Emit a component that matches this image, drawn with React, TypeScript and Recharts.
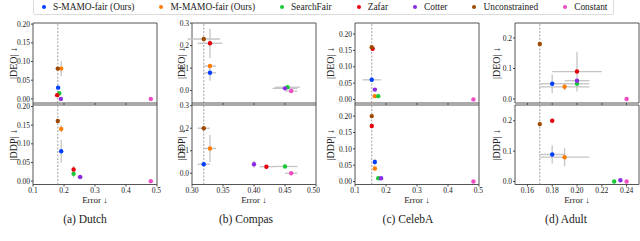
import React from "react";
import {
  ScatterChart,
  Scatter,
  XAxis,
  YAxis,
  ErrorBar,
  ReferenceLine,
  ReferenceArea,
} from "recharts";

const METHODS = [
  "S-MAMO-fair (Ours)",
  "M-MAMO-fair (Ours)",
  "SearchFair",
  "Zafar",
  "Cotter",
  "Unconstrained",
  "Constant",
];

const COLORS = ["#023eff", "#ff7c00", "#1ac938", "#e8000b", "#8b2be2", "#9f4800", "#f14cc1"];

// one row per method, same order as METHODS: [error, metric, error std, metric std]
const dutchDeo = [
  [0.181, 0.03, 0, 0],
  [0.191, 0.081, 0, 0.02],
  [0.185, 0.015, 0, 0],
  [0.178, 0.01, 0, 0],
  [0.19, 0.0, 0, 0],
  [0.18, 0.081, 0, 0],
  [0.48, 0.0, 0, 0],
];
const dutchDdp = [
  [0.191, 0.08, 0, 0.03],
  [0.191, 0.14, 0, 0.01],
  [0.231, 0.02, 0, 0.01],
  [0.231, 0.031, 0, 0.01],
  [0.252, 0.011, 0.01, 0],
  [0.18, 0.161, 0, 0],
  [0.48, 0.0, 0, 0],
];

const compasDeo = [
  [0.329, 0.079, 0.01, 0.035],
  [0.329, 0.109, 0.01, 0],
  [0.454, 0.015, 0.02, 0],
  [0.329, 0.21, 0.02, 0.065],
  [0.45, 0.01, 0.02, 0],
  [0.319, 0.229, 0.026, 0],
  [0.46, -0.002, 0.01, 0],
];
const compasDdp = [
  [0.319, 0.04, 0.01, 0],
  [0.329, 0.11, 0.01, 0.06],
  [0.45, 0.03, 0.02, 0],
  [0.42, 0.029, 0.011, 0],
  [0.4, 0.04, 0, 0.016],
  [0.319, 0.2, 0.01, 0],
  [0.46, 0.0, 0.01, 0],
];

const celebaDeo = [
  [0.154, 0.06, 0.0295, 0],
  [0.164, 0.01, 0, 0],
  [0.175, 0.01, 0, 0.005],
  [0.157, 0.155, 0, 0],
  [0.164, 0.03, 0, 0],
  [0.154, 0.16, 0, 0],
  [0.482, 0.0, 0, 0],
];
const celebaDdp = [
  [0.164, 0.06, 0, 0.01],
  [0.164, 0.04, 0, 0.005],
  [0.175, 0.01, 0, 0],
  [0.154, 0.17, 0, 0],
  [0.184, 0.01, 0, 0],
  [0.154, 0.2, 0, 0],
  [0.482, 0.0, 0, 0],
];

const adultDeo = [
  [0.18, 0.05, 0.01, 0.03],
  [0.19, 0.04, 0.02, 0.012],
  [0.2, 0.05, 0.01, 0.01],
  [0.2, 0.09, 0.02, 0.065],
  [0.2, 0.06, 0.01, 0],
  [0.17, 0.18, 0, 0],
  [0.24, 0.0, 0, 0],
];
const adultDdp = [
  [0.18, 0.089, 0.01, 0.03],
  [0.19, 0.08, 0.02, 0.03],
  [0.23, 0.0, 0, 0],
  [0.18, 0.2, 0, 0],
  [0.235, 0.004, 0, 0],
  [0.17, 0.189, 0, 0],
  [0.24, 0.0, 0, 0],
];

const FONT = '"Liberation Serif", "DejaVu Serif", serif';
const PLOT_W = 124;
const ROWS = {
  top: { top: 23, height: 80 },
  bottom: { top: 104.5, height: 79.5 },
};

const DATASETS = [
  {
    caption: "(a) Dutch",
    captionX: 85,
    left: 33,
    labelX: 13,
    xDomain: [0.1, 0.5],
    xTicks: [0.1, 0.2, 0.3, 0.4, 0.5],
    xDigits: 1,
    deo: dutchDeo,
    ddp: dutchDdp,
    deoDomain: [-0.011, 0.203],
    ddpDomain: [-0.009, 0.204],
    yTicks: [0, 0.05, 0.1, 0.15, 0.2],
    yDigits: 2,
  },
  {
    caption: "(b) Compas",
    captionX: 246,
    left: 192,
    labelX: 181,
    xDomain: [0.3, 0.5],
    xTicks: [0.3, 0.35, 0.4, 0.45, 0.5],
    xDigits: 2,
    deo: compasDeo,
    ddp: compasDdp,
    deoDomain: [-0.055, 0.3],
    ddpDomain: [-0.05, 0.303],
    yTicks: [0, 0.1, 0.2, 0.3],
    yDigits: 1,
  },
  {
    caption: "(c) CelebA",
    captionX: 408,
    left: 355,
    labelX: 330,
    xDomain: [0.1, 0.5],
    xTicks: [0.1, 0.2, 0.3, 0.4, 0.5],
    xDigits: 1,
    deo: celebaDeo,
    ddp: celebaDdp,
    deoDomain: [-0.011, 0.234],
    ddpDomain: [-0.009, 0.234],
    yTicks: [0, 0.05, 0.1, 0.15, 0.2],
    yDigits: 2,
  },
  {
    caption: "(d) Adult",
    captionX: 566,
    left: 515,
    labelX: 496,
    xDomain: [0.15, 0.25],
    xTicks: [0.16, 0.18, 0.2, 0.22, 0.24],
    xDigits: 2,
    deo: adultDeo,
    ddp: adultDdp,
    deoDomain: [-0.013, 0.249],
    ddpDomain: [-0.01, 0.252],
    yTicks: [0, 0.1, 0.2],
    yDigits: 1,
  },
];

const TICK = { fontSize: 7.5, fill: "#222", fontFamily: FONT };

function Panel({ ds, rows, yDomain, yLabel, bottom }: any) {
  const row = bottom ? ROWS.bottom : ROWS.top;
  const mt = 4;
  const mr = 4;
  const mb = bottom ? 6 : 0;
  const axisH = bottom ? 18 : 3;
  const chartLeft = ds.labelX - 10;
  const yw = ds.left - chartLeft;
  const series = rows.map((r: number[]) => [{ x: r[0], y: r[1], xe: r[2], ye: r[3] }]);
  const baseline = rows[5][0]; // unconstrained error
  const cy = mt + row.height / 2;

  return (
    <div style={{ position: "absolute", left: chartLeft, top: row.top - mt }}>
      <ScatterChart
        width={yw + PLOT_W + mr}
        height={mt + row.height + axisH + mb}
        margin={{ top: mt, right: mr, bottom: mb, left: 0 }}
      >
        <XAxis
          type="number"
          dataKey="x"
          domain={ds.xDomain}
          ticks={ds.xTicks}
          allowDataOverflow
          height={axisH}
          axisLine={false}
          tickSize={2}
          tickMargin={1}
          tickLine={{ stroke: "#444" }}
          tick={TICK}
          tickFormatter={(v: number) => (bottom ? v.toFixed(ds.xDigits) : "")}
          label={
            bottom
              ? {
                  content: () => (
                    <text
                      x={yw + PLOT_W / 2}
                      y={mt + row.height + 18}
                      textAnchor="middle"
                      fontSize={9}
                      fill="#222"
                      fontFamily={FONT}
                    >
                      Error ↓
                    </text>
                  ),
                }
              : undefined
          }
        />
        <YAxis
          type="number"
          dataKey="y"
          domain={yDomain}
          ticks={ds.yTicks}
          allowDataOverflow
          width={yw}
          axisLine={false}
          tickSize={2}
          tickMargin={1}
          tickLine={{ stroke: "#444" }}
          tick={TICK}
          tickFormatter={(v: number) => v.toFixed(ds.yDigits)}
          label={{
            content: () => (
              <text
                x={10}
                y={cy}
                transform={`rotate(-90 10 ${cy})`}
                textAnchor="middle"
                dominantBaseline="central"
                fontSize={10}
                fill="#222"
                fontFamily={FONT}
              >
                {yLabel}
              </text>
            ),
          }}
        />
        <ReferenceArea
          x1={ds.xDomain[0]}
          x2={ds.xDomain[1]}
          y1={yDomain[0]}
          y2={yDomain[1]}
          fill="none"
          fillOpacity={0}
          stroke="#555"
          strokeWidth={1}
          ifOverflow="visible"
        />
        <ReferenceLine x={baseline} stroke="#888" strokeWidth={0.8} strokeDasharray="2 1.5" />
        {series.map((d: any, i: number) => (
          <Scatter
            key={"err" + i}
            data={d}
            isAnimationActive={false}
            shape={() => <g />}
          >
            <ErrorBar dataKey="xe" direction="x" width={0} stroke="#c4c4c4" strokeWidth={1.3} />
            <ErrorBar dataKey="ye" direction="y" width={0} stroke="#c4c4c4" strokeWidth={1.3} />
          </Scatter>
        ))}
        {series.map((d: any, i: number) => (
          <Scatter
            key={METHODS[i]}
            name={METHODS[i]}
            data={d}
            isAnimationActive={false}
            shape={(p: any) => <circle cx={p.cx} cy={p.cy} r={2.2} fill={COLORS[i]} />}
          />
        ))}
      </ScatterChart>
    </div>
  );
}

function Legend() {
  return (
    <div
      style={{
        position: "absolute",
        left: 32.7,
        top: -2,
        width: 581,
        height: 17,
        border: "1px solid #dcdcdc",
        borderRadius: 2,
        boxSizing: "border-box",
        display: "flex",
        alignItems: "center",
        paddingLeft: 8.3,
        gap: 25,
        fontSize: 9.4,
        color: "#222",
      }}
    >
      {METHODS.map((m, i) => (
        <div key={m} style={{ display: "flex", alignItems: "center", whiteSpace: "nowrap" }}>
          <span
            style={{
              width: 4,
              height: 4,
              borderRadius: "50%",
              background: COLORS[i],
              marginRight: 7,
              display: "inline-block",
            }}
          />
          <span>{m}</span>
        </div>
      ))}
    </div>
  );
}

export default function App() {
  return (
    <div
      style={{
        position: "absolute",
        left: 0,
        top: 0,
        width: 640,
        height: 241,
        overflow: "hidden",
        background: "#fff",
        fontFamily: FONT,
      }}
    >
      <Legend />
      {DATASETS.map((ds) => (
        <React.Fragment key={ds.caption}>
          <Panel ds={ds} rows={ds.deo} yDomain={ds.deoDomain} yLabel="|DEO| ↓" bottom={false} />
          <Panel ds={ds} rows={ds.ddp} yDomain={ds.ddpDomain} yLabel="|DDP| ↓" bottom={true} />
          <div
            style={{
              position: "absolute",
              left: ds.captionX - 60,
              top: 212,
              width: 120,
              textAlign: "center",
              fontSize: 11.5,
              lineHeight: "14px",
              color: "#222",
            }}
          >
            {ds.caption}
          </div>
        </React.Fragment>
      ))}
    </div>
  );
}
